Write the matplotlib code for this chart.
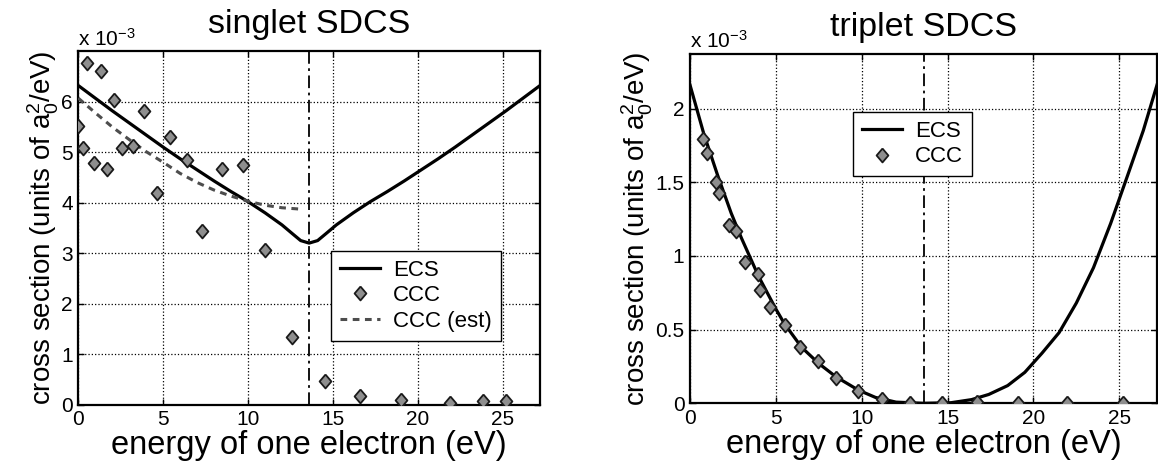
import matplotlib
matplotlib.use('Agg')
import matplotlib.pyplot as plt

plt.rcParams['font.family'] = ['Liberation Sans', 'DejaVu Sans']
plt.rcParams['mathtext.fontset'] = 'custom'
plt.rcParams['mathtext.rm'] = 'Liberation Sans'
plt.rcParams['mathtext.default'] = 'regular'

# values, y in units of 1e-3 a0^2/eV
singlet_ecs_x = [0, 1, 2, 3, 4, 5, 6, 7, 8, 9, 10, 11, 12, 12.6, 13.1, 13.6,
                 14.1, 14.6, 15.2, 16.2, 17.2, 18.2, 19.2, 20.2, 21.2, 22.2,
                 23.2, 24.2, 25.2, 26.2, 27.2]
singlet_ecs_y = [6.32, 6.07, 5.82, 5.58, 5.34, 5.10, 4.87, 4.65, 4.43, 4.22,
                 4.02, 3.80, 3.56, 3.39, 3.25, 3.20, 3.25, 3.39, 3.56, 3.80,
                 4.02, 4.22, 4.43, 4.65, 4.87, 5.10, 5.34, 5.58, 5.82, 6.07, 6.32]

singlet_est_x = [0, 1, 2, 3, 4, 5, 6, 7, 8, 9, 10, 11, 12, 13.2]
singlet_est_y = [6.07, 5.78, 5.50, 5.25, 5.01, 4.80, 4.58, 4.40, 4.25, 4.13,
                 4.03, 3.95, 3.90, 3.87]

singlet_ccc_x = [0.0, 0.3, 0.5, 0.9, 1.35, 1.7, 2.1, 2.6, 3.25, 3.85, 4.65,
                 5.4, 6.4, 7.3, 8.45, 9.7, 11.0, 12.6, 14.55, 16.6, 19.0,
                 21.9, 23.85, 25.2]
singlet_ccc_y = [5.51, 5.09, 6.77, 4.78, 6.61, 4.66, 6.03, 5.08, 5.13, 5.81,
                 4.20, 5.30, 4.85, 3.43, 4.67, 4.74, 3.07, 1.34, 0.47, 0.17,
                 0.09, 0.03, 0.07, 0.07]

triplet_ecs_x = [0, 0.8, 1.6, 2.4, 3.0, 4.0, 5.0, 5.5, 6.5, 7.5, 8.5, 9.8,
                 10.8, 12.0, 13.6, 15.2, 16.4, 17.4, 18.5, 19.5, 20.5, 21.5,
                 22.5, 23.5, 24.5, 25.5, 26.4, 27.2]
triplet_ecs_y = [2.16, 1.83, 1.55, 1.29, 1.12, 0.86, 0.64, 0.54, 0.38, 0.27,
                 0.18, 0.09, 0.04, 0.008, 0.0, 0.004, 0.025, 0.06, 0.12, 0.21,
                 0.34, 0.48, 0.68, 0.92, 1.22, 1.55, 1.85, 2.16]

triplet_ccc_x = [0.74, 1.0, 1.49, 1.70, 2.28, 2.70, 3.2, 3.97, 4.07, 4.68,
                 5.55, 6.42, 7.47, 8.52, 9.78, 11.2, 12.82, 14.65, 16.72,
                 19.13, 21.97, 25.22]
triplet_ccc_y = [1.79, 1.70, 1.50, 1.43, 1.21, 1.17, 0.96, 0.88, 0.77, 0.655,
                 0.53, 0.38, 0.285, 0.175, 0.083, 0.028, 0.004, 0.002, 0.006,
                 0.004, 0.003, 0.003]

half_energy = 13.6
x_ticks = [0, 5, 10, 15, 20, 25]
singlet_yticks = [0, 1, 2, 3, 4, 5, 6]
triplet_yticks = [0, 0.5, 1, 1.5, 2]
triplet_yticklabels = ['0', '0.5', '1', '1.5', '2']

diamond = [(0, 1), (0.85, 0), (0, -1), (-0.85, 0), (0, 1)]
mk = dict(marker=diamond, markersize=10, markerfacecolor='#8e8e8e',
          markeredgecolor='#1a1a1a', markeredgewidth=1.3, linestyle='none')

fig = plt.figure(figsize=(11.58, 4.65), dpi=100)
ax1 = fig.add_axes([78.3 / 1158, 60.3 / 465, 461.7 / 1158, 353.5 / 465])
ax2 = fig.add_axes([690 / 1158, 61.7 / 465, 467 / 1158, 349.3 / 465])


def style_axes(ax, ymax):
    ax.set_xlim(0, 27.2)
    ax.set_ylim(0, ymax)
    ax.grid(True, linestyle=':', color='k', linewidth=0.9)
    ax.tick_params(direction='in', top=True, right=True, length=4, width=1,
                   labelsize=15)
    ax.tick_params(axis='x', pad=4)
    ax.tick_params(axis='y', pad=4)
    for s in ax.spines.values():
        s.set_linewidth(1.6)
    ax.axvline(half_energy, color='k', lw=1.3, linestyle=(0, (7, 2.5, 1.5, 2.5)))
    ax.set_xticks(x_ticks)
    ax.set_xlabel('energy of one electron (eV)', fontsize=23.5, labelpad=0.5)
    ax.set_ylabel('cross section (units of $a_0^2$/eV)', fontsize=20, labelpad=0)
    ax.text(0, 1.005, r'x 10$^{-3}$', transform=ax.transAxes, fontsize=15,
            ha='left', va='bottom')


style_axes(ax1, 7.0)
ax1.set_yticks(singlet_yticks)
ax1.plot(singlet_ecs_x, singlet_ecs_y, color='k', lw=2.3, label='ECS', zorder=3)
ax1.plot(singlet_ccc_x, singlet_ccc_y, label='CCC', zorder=4, **mk)
ax1.plot(singlet_est_x, singlet_est_y, color='#4d4d4d', lw=2.2,
         linestyle=(0, (2.2, 1.8)), label='CCC (est)', zorder=3)
ax1.set_title('singlet SDCS', fontsize=24.5, pad=13)
ax1.legend(loc='upper left', bbox_to_anchor=(0.547, 0.435), fontsize=16,
           frameon=True, fancybox=False, edgecolor='k', framealpha=1,
           borderpad=0.4, labelspacing=0.2, handlelength=1.8,
           handletextpad=0.6, borderaxespad=0).get_frame().set_linewidth(1)

style_axes(ax2, 2.37)
ax2.set_yticks(triplet_yticks)
ax2.set_yticklabels(triplet_yticklabels)
ax2.plot(triplet_ecs_x, triplet_ecs_y, color='k', lw=2.3, label='ECS', zorder=3)
ax2.plot(triplet_ccc_x, triplet_ccc_y, label='CCC', zorder=4, **mk)
ax2.set_title('triplet SDCS', fontsize=24.5, pad=13)
ax2.legend(loc='upper left', bbox_to_anchor=(0.349, 0.834), fontsize=16,
           frameon=True, fancybox=False, edgecolor='k', framealpha=1,
           borderpad=0.4, labelspacing=0.2, handlelength=1.8,
           handletextpad=0.6, borderaxespad=0).get_frame().set_linewidth(1)

fig.savefig('out.png', dpi=100)
